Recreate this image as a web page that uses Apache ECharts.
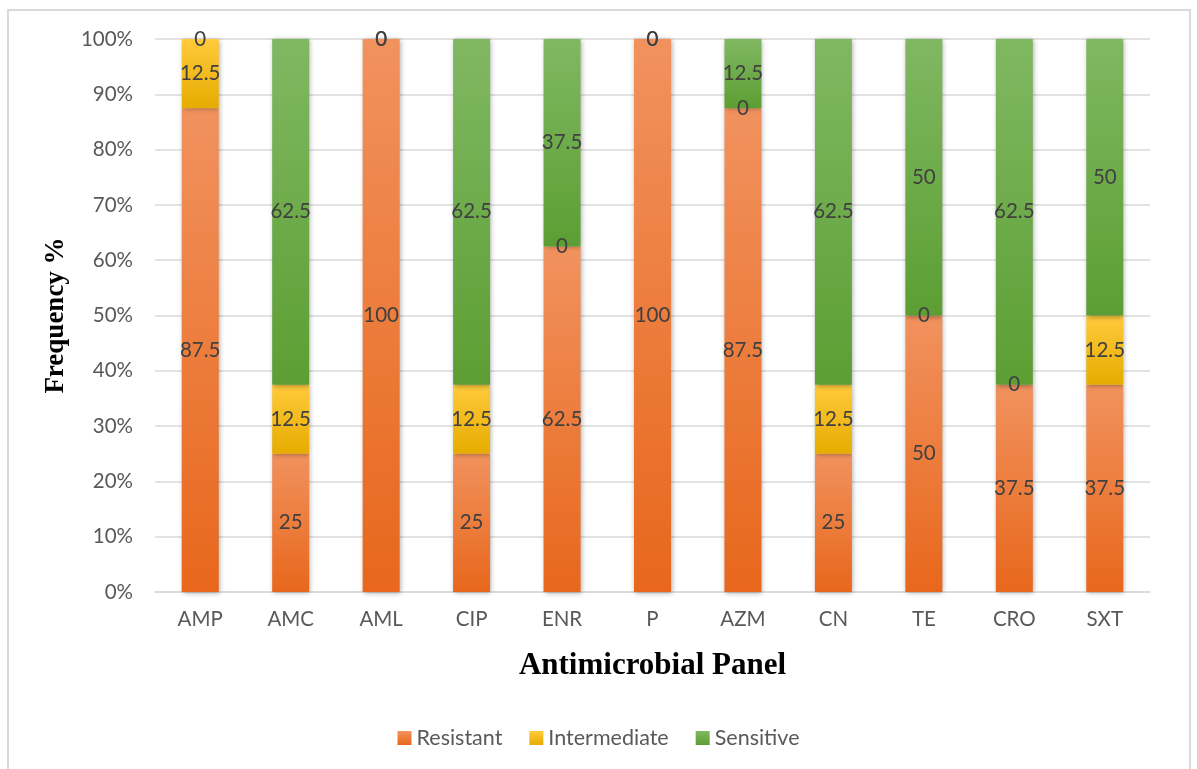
<!DOCTYPE html>
<html>
<head>
<meta charset="utf-8">
<script src="https://cdn.jsdelivr.net/npm/echarts@6/dist/echarts.min.js"></script>
<style>
  html, body { margin: 0; padding: 0; background: #ffffff; }
  #chart { width: 1197px; height: 769px; }
</style>
</head>
<body>
<div id="chart"></div>
<script>
// Antimicrobial susceptibility profile (percent of isolates)
const categories = ['AMP', 'AMC', 'AML', 'CIP', 'ENR', 'P', 'AZM', 'CN', 'TE', 'CRO', 'SXT'];
const resistant    = [87.5, 25, 100, 25, 62.5, 100, 87.5, 25, 50, 37.5, 37.5];
const intermediate = [12.5, 12.5, 0, 12.5, 0, 0, 0, 12.5, 0, 0, 12.5];
const sensitive    = [0, 62.5, 0, 62.5, 37.5, 0, 12.5, 62.5, 50, 62.5, 50];
const yTicks = [0, 10, 20, 30, 40, 50, 60, 70, 80, 90, 100];

const FONT = 'Lato, "Open Sans", sans-serif';
const SERIF = '"Liberation Serif", "DejaVu Serif", serif';

function grad(top, bottom) {
  return new echarts.graphic.LinearGradient(0, 0, 0, 1, [
    { offset: 0, color: top },
    { offset: 1, color: bottom }
  ]);
}

function barSeries(name, data, top, bottom) {
  return {
    name: name,
    type: 'bar',
    stack: 'total',
    barWidth: 37,
    data: data,
    itemStyle: {
      color: grad(top, bottom),
      shadowBlur: 5,
      shadowColor: 'rgba(0,0,0,0.35)',
      shadowOffsetX: 1,
      shadowOffsetY: 1
    },
    label: {
      show: true,
      position: 'inside',
      color: '#404040',
      fontFamily: FONT,
      fontSize: 20.5,
      formatter: p => String(p.value)
    }
  };
}

const chart = echarts.init(document.getElementById('chart'), null, { renderer: 'canvas' });
chart.setOption({
  backgroundColor: '#ffffff',
  animation: false,
  graphic: [{
    type: 'rect',
    shape: { x: 8, y: 10, width: 1182, height: 800 },
    style: { fill: 'none', stroke: '#d9d9d9', lineWidth: 2 },
    silent: true
  }],
  grid: { left: 155, right: 47, top: 39, bottom: 177 },
  legend: {
    bottom: 15,
    left: 'center',
    itemWidth: 14,
    itemHeight: 14,
    itemGap: 27,
    icon: 'rect',
    textStyle: { color: '#595959', fontFamily: FONT, fontSize: 21.5 },
    data: [
      { name: 'Resistant', itemStyle: { color: grad('#F1925E', '#E8671C') } },
      { name: 'Intermediate', itemStyle: { color: grad('#FFCA3C', '#E6AC00') } },
      { name: 'Sensitive', itemStyle: { color: grad('#80B862', '#5C9E33') } }
    ]
  },
  xAxis: {
    type: 'category',
    data: categories,
    name: 'Antimicrobial Panel',
    nameLocation: 'middle',
    nameGap: 58,
    nameTextStyle: { color: '#000', fontFamily: SERIF, fontWeight: 'bold', fontSize: 31 },
    axisLine: { lineStyle: { color: '#d9d9d9', width: 1.5 } },
    axisTick: { show: false },
    axisLabel: { color: '#595959', fontFamily: FONT, fontSize: 20.5, margin: 17 }
  },
  yAxis: {
    type: 'value',
    min: yTicks[0],
    max: yTicks[yTicks.length - 1],
    interval: 10,
    name: 'Frequency %',
    nameLocation: 'middle',
    nameGap: 82,
    nameTextStyle: { color: '#000', fontFamily: SERIF, fontWeight: 'bold', fontSize: 27 },
    axisLine: { show: false },
    axisTick: { show: false },
    splitLine: { lineStyle: { color: '#d9d9d9', width: 1.5 } },
    axisLabel: { color: '#595959', fontFamily: FONT, fontSize: 20.5, margin: 22, formatter: '{value}%' }
  },
  series: [
    barSeries('Resistant', resistant, '#F1925E', '#E8671C'),
    barSeries('Intermediate', intermediate, '#FFCA3C', '#E6AC00'),
    barSeries('Sensitive', sensitive, '#80B862', '#5C9E33')
  ]
});
</script>
</body>
</html>
